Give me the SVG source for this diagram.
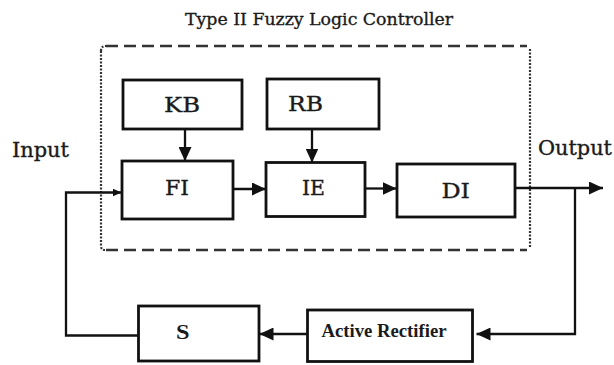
<svg xmlns="http://www.w3.org/2000/svg" width="614" height="365" viewBox="0 0 614 365">
<style>
.box{fill:#fff;stroke:#111;stroke-width:2.8}
.lbl{font-family:"DejaVu Serif","Liberation Serif",serif;font-size:20px;fill:#1a1a1a;stroke:#1a1a1a;stroke-width:0.35}
.bold{font-family:"Liberation Serif","DejaVu Serif",serif;font-weight:bold;fill:#1a1a1a}
.ln{fill:none;stroke:#111;stroke-width:2.3}
.dash{fill:none;stroke:#333;stroke-width:2.6;stroke-dasharray:12 6}
.dot{fill:none;stroke:#333;stroke-width:2.2;stroke-dasharray:2 1.5}
</style>
<defs>
<marker id="ah" markerUnits="userSpaceOnUse" markerWidth="14" markerHeight="13" refX="14" refY="6.5" orient="auto">
<path d="M0,0 L14,6.5 L0,13 Z" fill="#111"/>
</marker>
<marker id="ahs" markerUnits="userSpaceOnUse" markerWidth="9" markerHeight="8" refX="9" refY="4" orient="auto">
<path d="M0,0 L9,4 L0,8 Z" fill="#111"/>
</marker>
</defs>
<text class="lbl" x="185" y="25" textLength="268" lengthAdjust="spacingAndGlyphs" style="font-size:17.5px">Type II Fuzzy Logic Controller</text>
<g id="controller-boundary">
<path class="dash" d="M106,46 H527"/>
<path class="dash" d="M106,250 H527"/>
<path class="dot" d="M101,51 Q101,46 106,46"/>
<path class="dot" d="M101,51 V246 Q101,250 105,250"/>
<path class="dot" d="M530,49 V248"/>
</g>
<g id="connectors">
<line class="ln" x1="185" y1="129" x2="185" y2="161" marker-end="url(#ah)"/>
<line class="ln" x1="312" y1="129" x2="312" y2="162.5" marker-end="url(#ah)"/>
<line class="ln" x1="233" y1="189" x2="266" y2="189" marker-end="url(#ah)"/>
<line class="ln" x1="365" y1="188.5" x2="396.5" y2="188.5" marker-end="url(#ah)"/>
<line class="ln" x1="515" y1="188" x2="603" y2="188" marker-end="url(#ah)"/>
<path class="ln" d="M575,188 V334 H476.5" marker-end="url(#ah)"/>
<line class="ln" x1="307" y1="334" x2="259.5" y2="334" marker-end="url(#ah)"/>
<path class="ln" d="M138,335.5 H66 V192.5 H121.5" marker-end="url(#ahs)"/>
</g>
<g id="KB"><rect class="box" x="123" y="80" width="119" height="49"/><text class="lbl" x="164" y="111.5" textLength="36" lengthAdjust="spacingAndGlyphs">KB</text></g>
<g id="RB"><rect class="box" x="267" y="79" width="112" height="50"/><text class="lbl" x="288" y="111" textLength="35" lengthAdjust="spacingAndGlyphs">RB</text></g>
<g id="FI"><rect class="box" x="122" y="161" width="111" height="58"/><text class="lbl" x="165" y="194.5" textLength="24" lengthAdjust="spacingAndGlyphs">FI</text></g>
<g id="IE"><rect class="box" x="266" y="162.5" width="99" height="54"/><text class="lbl" x="302" y="195" textLength="23" lengthAdjust="spacingAndGlyphs">IE</text></g>
<g id="DI"><rect class="box" x="397" y="164" width="118" height="53"/><text class="lbl" x="441.5" y="197.5" textLength="28.5" lengthAdjust="spacingAndGlyphs">DI</text></g>
<g id="S"><rect class="box" x="138.5" y="306" width="120.5" height="55"/><text class="bold" x="176" y="338.5" style="font-size:20px" textLength="13.5" lengthAdjust="spacingAndGlyphs">S</text></g>
<g id="ActiveRectifier"><rect class="box" x="307.5" y="310" width="165" height="51.5"/><text class="bold" x="321.5" y="336.5" style="font-size:18px" textLength="125" lengthAdjust="spacingAndGlyphs">Active Rectifier</text></g>
<text class="lbl" x="12" y="157" textLength="57" lengthAdjust="spacingAndGlyphs">Input</text>
<text class="lbl" x="538" y="155" textLength="74" lengthAdjust="spacingAndGlyphs">Output</text>
</svg>
